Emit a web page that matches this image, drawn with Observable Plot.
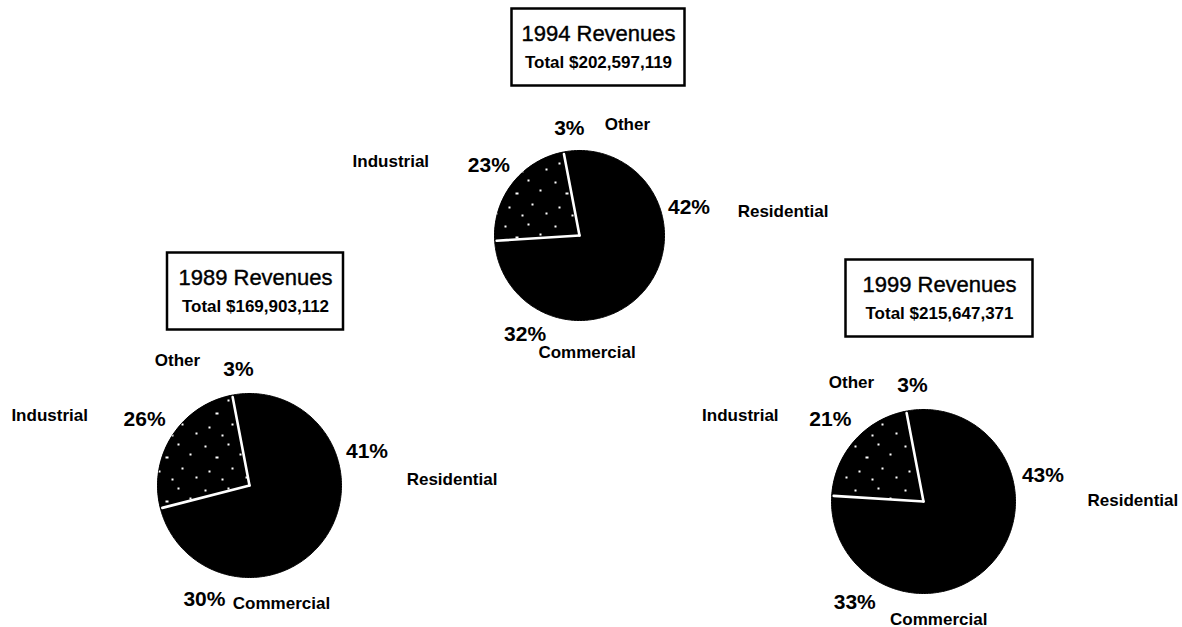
<!DOCTYPE html>
<html><head><meta charset="utf-8">
<script src="https://cdn.jsdelivr.net/npm/d3@7"></script>
<script src="https://cdn.jsdelivr.net/npm/@observablehq/plot@0.6"></script>
<style>
html,body{margin:0;padding:0;background:#fff;}
#chart svg{display:block;}
g[aria-label="titles"] text{letter-spacing:0.8px;}
g[aria-label="totals"] text{letter-spacing:0.8px;}
g[aria-label="percents"] text{letter-spacing:1px;}
g[aria-label="names"] text{letter-spacing:0.4px;}
</style></head><body><div id="chart"></div>
<script>
// ---- data ----
const years = ["1989", "1994", "1999"];
const totals = ["$169,903,112", "$202,597,119", "$215,647,371"];
const categories = ["Residential", "Commercial", "Industrial", "Other"];
const share1989 = [41, 30, 26, 3];
const share1994 = [42, 32, 23, 3];
const share1999 = [43, 33, 21, 3];
const shares = [share1989, share1994, share1999];

// ---- layout ----
const pieCenter = [[249, 485], [579, 235], [923, 501]];
const pieRadius = [92, 85, 92];
const boxCenter = [[255, 291], [598, 47], [939, 298]];
const boxWidth = [176, 173, 187];
const boxHeight = 77;
const labelK = {Residential: 1.33, Commercial: 1.33, Industrial: 1.35, Other: 1.27};
const nameOffset = [
  {Residential: [85, 28], Commercial: [77, 4], Industrial: [-95, -3], Other: [-61, -9]},
  {Residential: [94, 4], Commercial: [62, 18], Industrial: [-98, -4], Other: [58, -3]},
  {Residential: [90, 26], Commercial: [84, 17], Industrial: [-90, -4], Other: [-61, -3]}
];
const FONT = "Liberation Sans, Arial, Helvetica, sans-serif";

// ---- derived geometry ----
const slicePts = [], basePts = [], seps = [], labels = [], boxes = [];
years.forEach((yr, i) => {
  const [cx, cy] = pieCenter[i], r = pieRadius[i];
  for (let k = 0; k <= 360; k++) {
    const a = k * Math.PI / 180;
    basePts.push({key: yr, x: cx + r * Math.sin(a), y: cy - r * Math.cos(a)});
  }
  let cum = 0;
  categories.forEach((cat, j) => {
    const v = shares[i][j];
    const a0 = cum / 100 * 2 * Math.PI, a1 = (cum + v) / 100 * 2 * Math.PI;
    const key = yr + cat;
    slicePts.push({key, cat, x: cx, y: cy});
    const n = Math.max(2, Math.ceil((a1 - a0) / (Math.PI / 180)));
    for (let k = 0; k <= n; k++) {
      const a = a0 + (a1 - a0) * k / n;
      slicePts.push({key, cat, x: cx + r * Math.sin(a), y: cy - r * Math.cos(a)});
    }
    if (cat === "Industrial") {
      for (const a of [a0, a1]) seps.push({cx, cy, ex: cx + (r - 2) * Math.sin(a), ey: cy - (r - 2) * Math.cos(a)});
    }
    const mid = (a0 + a1) / 2, kr = labelK[cat] * r;
    const px = cx + kr * Math.sin(mid), py = cy - kr * Math.cos(mid);
    const [dx, dy] = nameOffset[i][cat];
    labels.push({px, py, nx: px + dx, ny: py + dy, pct: v + "%", name: cat});
    cum += v;
  });
  const [bx, by] = boxCenter[i];
  boxes.push({x1: bx - boxWidth[i] / 2, x2: bx + boxWidth[i] / 2, y1: by - boxHeight / 2, y2: by + boxHeight / 2,
              bx, by, title: yr + " Revenues", total: "Total " + totals[i]});
});

const chart = Plot.plot({
  width: 1182, height: 627, margin: 0,
  x: {type: "linear", domain: [0, 1182], range: [0, 1182], axis: null},
  y: {type: "linear", domain: [0, 627], range: [0, 627], axis: null},
  style: {background: "white", overflow: "visible"},
  marks: [
    Plot.line(basePts, {x: "x", y: "y", z: "key", fill: "black", stroke: "black", strokeWidth: 1, curve: "linear"}),
    Plot.line(slicePts.filter(d => d.cat === "Industrial"), {x: "x", y: "y", z: "key", fill: "url(#stipple)", stroke: "none", curve: "linear"}),
    Plot.link(seps, {x1: "cx", y1: "cy", x2: "ex", y2: "ey", stroke: "white", strokeWidth: 2.6, strokeLinecap: "round"}),
    Plot.rect(boxes, {x1: "x1", x2: "x2", y1: "y1", y2: "y2", fill: "white", stroke: "black", strokeWidth: 2.5}),
    Plot.text(boxes, {x: "bx", y: d => d.by - 14, text: "title", fontSize: 22, fontFamily: FONT, fill: "black", stroke: "black", strokeWidth: 0.4, ariaLabel: "titles"}),
    Plot.text(boxes, {x: "bx", y: d => d.by + 15, text: "total", fontSize: 17, fontWeight: "bold", fontFamily: FONT, fill: "black", ariaLabel: "totals"}),
    Plot.text(labels, {x: "px", y: "py", text: "pct", fontSize: 21, fontWeight: "bold", fontFamily: FONT, fill: "black", ariaLabel: "percents"}),
    Plot.text(labels, {x: "nx", y: "ny", text: "name", fontSize: 17, fontWeight: "bold", fontFamily: FONT, fill: "black", ariaLabel: "names"})
  ]
});

// stipple pattern for the Industrial slices: black ground with sparse, irregular white specks
const defs = d3.select(chart).insert("defs", ":first-child");
const W = 50, H = 44;
const pat = defs.append("pattern").attr("id", "stipple").attr("patternUnits", "userSpaceOnUse")
  .attr("width", W).attr("height", H);
pat.append("rect").attr("width", W).attr("height", H).attr("fill", "black");
const specks = [[4, 5, 2, 2], [27, 3, 2, 1.5], [15, 16, 2.5, 1.5], [39, 13, 1.5, 1.5], [8, 30, 1.5, 2], [31, 27, 2, 2], [21, 38, 1.5, 1.5], [45, 36, 1.5, 1.5]];
specks.forEach(([x, y, w, h]) => pat.append("rect").attr("x", x).attr("y", y).attr("width", w).attr("height", h)
  .attr("fill", "white").attr("shape-rendering", "crispEdges"));

document.getElementById("chart").appendChild(chart);
</script>
</body></html>
